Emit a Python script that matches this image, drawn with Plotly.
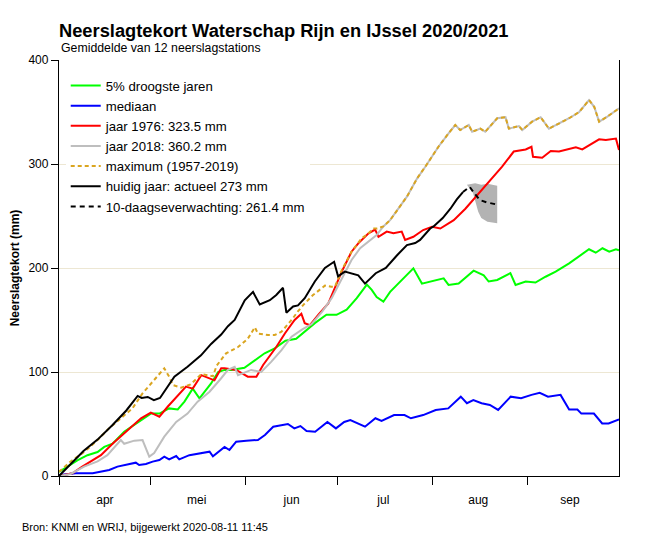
import pandas as pd
import plotly.graph_objects as go

# days since 1 april 2020 and cumulative precipitation deficit (mm)
start = pd.Timestamp("2020-04-01")

green_days = [0, 1.6, 6, 9.3, 12.6, 14.8, 17.5, 21.3, 26.8, 30, 32.8, 36, 38.8, 41, 43.7, 45.9,
              49.7, 52, 54.1, 56.3, 60.6, 64, 67.2, 70.5, 74, 77.5, 80.9, 83.6, 87.4, 90.7, 94,
              97.3, 100.6, 102.2, 103.8, 106, 108.2, 110.4, 113, 115.8, 118.6, 123, 125.7, 127.3,
              130.6, 135.5, 138.8, 140.4, 143.2, 147.5, 149.2, 152.5, 155.7, 159, 162.3, 166.7,
              170, 173.2, 175.4, 177.6, 179.8, 182, 183]
green_vals = [4, 7, 15, 20, 23, 28, 31, 42.6, 54, 60, 60, 65, 64, 71.5, 84, 74.7,
              89, 100, 102, 102, 104, 111.5, 118, 122.8, 130, 132, 140, 147, 155, 155, 160,
              171, 184, 179, 172, 167.6, 177, 183.7, 192, 199.7, 185, 188.5, 190, 183.7,
              185, 197.4, 193, 187, 188.5, 195, 183.7, 187, 186, 191.6, 196.5, 204.5,
              211, 218, 214.7, 219, 215.7, 218, 217]

blue_days = [0, 5.5, 11, 16.4, 19.1, 23, 25.1, 26.2, 28.4, 30.6, 32.8, 34.4, 36, 38.3, 39.3,
             42.6, 45.9, 49.2, 50.3, 54.1, 55.7, 57.9, 61.2, 65, 67.3, 70, 74.8, 76.9, 78.9,
             80.9, 83.7, 87.7, 90.5, 93.2, 95.2, 97.3, 100, 103.4, 105.4, 109.5, 112.9, 115,
             119, 123.1, 127.2, 131.3, 133.3, 135.4, 138.1, 140.8, 143.5, 147.6, 151, 154.4,
             157.1, 159.8, 163.9, 166.7, 169.4, 170.7, 174.8, 177.5, 179.6, 183]
blue_vals = [1, 2.6, 2.6, 5.8, 9, 11.5, 12.8, 10.6, 11.5, 13.8, 15.4, 18.6, 16, 19.2, 16,
             20, 21.8, 23.4, 19, 28, 25, 33, 34, 34.6, 39.4, 47.4, 50, 45.8, 48,
             43.3, 42.6, 52, 45.8, 52, 53.8, 51, 47.4, 55.5, 53, 58.6, 58.6, 55.5,
             58.6, 63.5, 65, 76.3, 70, 73, 70, 68.3, 63.5, 76.3, 74.7, 78,
             80, 76.3, 78, 64, 64, 60, 60, 50.6, 50.6, 54.5]

red_days = [0, 4.4, 7.6, 10.4, 13.7, 17.5, 22.4, 26.8, 30, 32.8, 35.5, 38.3, 41.5, 43.7, 46.5,
            50.8, 53, 54.1, 57.9, 61.7, 64.5, 66.7, 68.3, 71, 73.8, 77, 79.2, 80.3, 82, 84.7,
            88, 90.2, 92.4, 95.6, 97.8, 101, 103.3, 104.4, 107.1, 109.3, 112, 113.1, 115.8,
            119, 121.9, 124.6, 129, 132.8, 137.2, 141.5, 144.8, 148.6, 152.5, 154.4, 154.9,
            157.9, 160.7, 163.4, 166.7, 168.9, 171, 173.2, 176.5, 178.7, 182, 183]
red_vals = [0, 2.6, 9, 14, 20, 31, 44, 55.5, 61, 57, 66.6, 76, 86, 84, 97,
            92, 103.5, 103.5, 102, 95.5, 95.5, 106.7, 113, 124, 137, 150, 156, 147, 145, 155,
            166, 180.5, 196.5, 215.7, 223.7, 233, 237, 230, 235, 233.4, 235, 227, 230,
            236.5, 239.7, 238, 246, 257, 272, 286, 297.4, 312, 314, 316.6, 307,
            306, 312.5, 312, 314, 316, 314, 318, 323.7, 323, 324.4, 313.5]

grey_days = [0, 3.8, 8.2, 12.6, 15.8, 20.2, 21.3, 24.6, 27.3, 29.5, 31.1, 34.4, 38.3, 42, 45.3,
             49.2, 53, 55.2, 57.4, 58.5, 62.8, 66.1, 69.4, 72.7, 76, 79.5, 82.5, 86, 89.1,
             92.4, 95.6, 98.4, 101, 103.8, 106, 108.2, 113.7, 117, 119.7, 124, 127.3, 129.5,
             131.1, 133.9, 135, 137.7, 139.3, 143.2, 145.9, 147, 150.3, 151.4, 154.6, 157.4,
             160.1, 163.4, 166.7, 170, 173.2, 174.9, 176.5, 179.2, 183]
grey_vals = [0, 2, 9, 14, 20, 34.6, 31, 34, 34.6, 18.6, 22, 37.8, 52, 60, 71.5,
             81, 94, 102, 105, 97, 102, 100, 110, 121, 134, 141, 146, 158, 171,
             190, 207.7, 219, 225, 231.7, 240, 246, 268.6, 286, 297.4, 316.6, 329.5, 337.5,
             332.7, 337.5, 331, 334, 331, 344, 345, 334, 336.5, 332.7, 340.7, 345,
             334, 339, 344, 350, 361.5, 355, 340.7, 345.6, 353.5]

max_days = [0, 3.8, 8.2, 12.6, 16.4, 20.2, 24, 27.3, 31.1, 34.4, 36, 37.2, 39.9, 43, 46.5,
            48.5, 50.3, 51.5, 54.6, 58.5, 61.7, 64, 65, 68.3, 70.5, 72.7, 76, 78, 80, 83,
            86.9, 89, 90.2, 92.4, 95.6, 98.9, 101, 102.7, 104, 106, 108.2, 113.7, 117, 119.7,
            124, 127.3, 129.5, 131.1, 133.9, 135, 137.7, 139.3, 143.2, 145.9, 147, 150.3,
            151.4, 154.6, 157.4, 160.1, 163.4, 166.7, 170, 173.2, 174.9, 176.5, 179.2, 183]
max_vals = [4, 14, 23, 34.6, 46, 55.5, 65, 79.5, 92.3, 103.5, 95.5, 87.5, 85, 88, 98,
            97, 96, 106, 118, 124, 132, 143, 137, 135.6, 135.6, 138.7, 150, 158, 165, 174,
            183, 182, 182, 198, 215.7, 228.5, 233, 238, 238, 240, 246, 268.6, 286, 297.4,
            316.6, 329.5, 337.5, 332.7, 337.5, 331, 334, 331, 344, 345, 334, 336.5,
            332.7, 340.7, 345, 334, 339, 344, 350, 361.5, 355, 340.7, 345.6, 353.5]

now_days = [0, 4, 8, 12.6, 17.5, 22, 25.7, 27, 29, 31, 33, 37.7, 42, 46.4, 49.7, 53, 55.2,
            57.4, 60.7, 63.4, 65.6, 68.9, 71, 73.2, 74.3, 76.5, 78.1, 80.3, 83.6, 86.9, 89.9,
            91.2, 93.4, 97.8, 100, 103.5, 106.8, 110.4, 113.7, 116.4, 118, 121.3, 122.4,
            125.4, 127.9, 130, 132]
now_vals = [0, 12, 24, 35, 49, 63, 77, 75, 76, 73, 75, 95.5, 105, 116, 127, 136, 144,
            150, 169, 177, 165, 169, 174, 181, 157, 163, 164, 171, 187, 200, 206,
            192, 196.5, 193, 185, 195, 200, 212, 222, 224, 227, 238, 240,
            248, 257, 266, 273]

fc_days = [132, 134.2, 135.7, 137.5, 139.9, 142.5]
fc_vals = [273, 278, 272, 265.4, 263, 261.4]

band_days = [133.3, 136, 138, 140, 143.2, 143.2, 140, 138, 137, 136.4, 135.3, 133.3]
band_vals = [280, 281.5, 280, 281, 279, 243, 244.5, 248, 254, 260.6, 272, 280]

month_starts = ["2020-04-01", "2020-05-01", "2020-06-01", "2020-07-01", "2020-08-01", "2020-09-01"]
month_mids = ["2020-04-16", "2020-05-16", "2020-06-16", "2020-07-16", "2020-08-16", "2020-09-15"]
month_labels = ["apr", "mei", "jun", "jul", "aug", "sep"]


def to_dates(days):
    return start + pd.to_timedelta(days, unit="D")


FONT = "Liberation Sans, Arial, sans-serif"
W, H = 642, 542  # page puts the figure 8px in from the top-left corner

fig = go.Figure()

# forecast spread
fig.add_trace(go.Scatter(x=to_dates(band_days), y=band_vals, fill="toself",
                         fillcolor="rgb(179,179,179)", line=dict(width=0),
                         mode="lines", showlegend=False, hoverinfo="skip"))

series = [
    ("5% droogste jaren", green_days, green_vals, "#00FF00", "solid"),
    ("mediaan", blue_days, blue_vals, "#0000FF", "solid"),
    ("jaar 1976: 323.5 mm", red_days, red_vals, "#FF0000", "solid"),
    ("jaar 2018: 360.2 mm", grey_days, grey_vals, "#BEBEBE", "solid"),
    ("maximum (1957-2019)", max_days, max_vals, "#DAA520", "4px,3px"),
    ("huidig jaar: actueel 273 mm", now_days, now_vals, "black", "solid"),
    ("10-daagseverwachting: 261.4 mm", fc_days, fc_vals, "black", "5px,4px"),
]
for name, d, v, col, dash in series:
    fig.add_trace(go.Scatter(x=to_dates(d), y=v, mode="lines", name=name,
                             line=dict(color=col, width=2, dash=dash)))

fig.update_layout(
    width=W, height=H,
    margin=dict(l=51, r=31, t=52, b=74),
    paper_bgcolor="white", plot_bgcolor="white",
    font=dict(family=FONT, size=12, color="black"),
    title=dict(text="Neerslagtekort Waterschap Rijn en IJssel 2020/2021",
               font=dict(size=18.3, weight="bold", family=FONT),
               x=0, xref="paper", xanchor="left",
               y=1 - 23 / H, yref="container", yanchor="middle"),
    # month names in the middle of each month, tick marks on the month boundaries
    xaxis=dict(type="date", range=["2020-04-01", "2020-10-01"], automargin=False,
               tickvals=month_mids, ticktext=month_labels, tickfont=dict(size=12),
               ticks="outside", ticklen=12, tickcolor="rgba(0,0,0,0)",
               minor=dict(tickvals=month_starts, ticks="outside", ticklen=8,
                          tickcolor="black", tickwidth=1.3, showgrid=False),
               showline=True, linecolor="black", linewidth=1.3,
               showgrid=False, zeroline=False),
    yaxis=dict(range=[0, 400], tickvals=[0, 100, 200, 300, 400], automargin=False,
               ticks="outside", ticklen=7, tickcolor="black", tickwidth=1.3,
               showline=True, mirror=True, linecolor="black", linewidth=1.3,
               gridcolor="#EDE7D3", gridwidth=1, zeroline=False,
               tickfont=dict(size=12),
               title=dict(text="Neerslagtekort (mm)", font=dict(size=12, weight="bold"),
                          standoff=6)),
    legend=dict(x=0.012, y=0.975, xanchor="left", yanchor="top", bgcolor="white",
                font=dict(size=13.2), itemwidth=30, tracegroupgap=0),
    annotations=[
        dict(text="Gemiddelde van 12 neerslagstations", xref="paper", yref="paper",
             x=0, y=1 + 12 / 416, xanchor="left", yanchor="middle", showarrow=False,
             font=dict(size=12.3)),
        dict(text="Bron: KNMI en WRIJ, bijgewerkt 2020-08-11 11:45", xref="paper", yref="paper",
             x=-39 / 560, y=-51 / 416, xanchor="left", yanchor="middle", showarrow=False,
             font=dict(size=11)),
    ],
)

fig.write_html("out.html")
